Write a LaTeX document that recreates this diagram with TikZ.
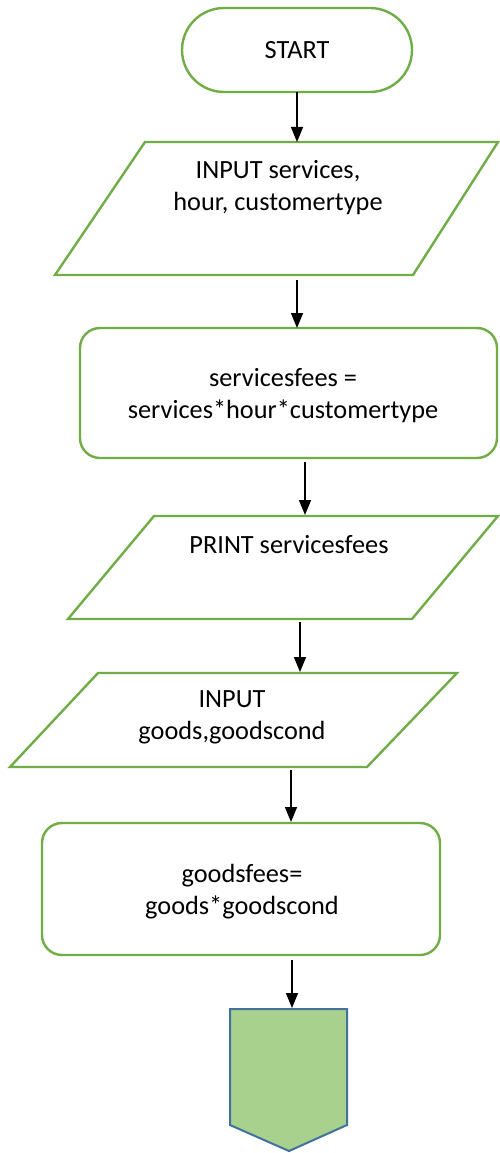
\documentclass[tikz,border=0pt]{standalone}
\usepackage{fontspec}
\setmainfont{Carlito}
\usetikzlibrary{arrows.meta}
\definecolor{flowgreen}{HTML}{70AD47}
\definecolor{connfill}{HTML}{A9D18E}
\definecolor{connedge}{HTML}{41719C}
\tikzset{
  outline/.style={draw=flowgreen, line width=2.4pt, fill=white, line join=miter},
  label/.style={align=center, font=\fontsize{26.3}{32}\selectfont, inner sep=0pt},
  flow/.style={line width=1.5pt, -{Triangle[length=15pt,width=12pt]}},
}
\begin{document}
\begin{tikzpicture}[x=1pt,y=-1pt]
\useasboundingbox (0,0) rectangle (499,1153);

% terminal
\draw[outline, rounded corners=42pt] (182,8) rectangle (412,92);
\node[label] (start) at (297,50) {START};

% input of services, hour, customer type
\draw[outline] (145,142) -- (498,142) -- (413,275) -- (55,275) -- cycle;
\node[label] (in1) at (278,188) {INPUT services,\\hour, customertype};

% services fee computation
\draw[outline, rounded corners=20pt] (80,328) rectangle (497,458);
\node[label] (proc1) at (283,396) {servicesfees =\\services*hour*customertype};

% print
\draw[outline] (154,516) -- (498,516) -- (412,619) -- (68,619) -- cycle;
\node[label] (out1) at (289,545) {PRINT servicesfees};

% input of goods
\draw[outline] (98,673) -- (457,673) -- (367,767) -- (10,767) -- cycle;
\node[label] (in2) at (232,717) {INPUT\\goods,goodscond};

% goods fee computation
\draw[outline, rounded corners=20pt] (42,823) rectangle (440,955);
\node[label] (proc2) at (242,892) {goodsfees=\\goods*goodscond};

% off-page connector
\draw[fill=connfill, draw=connedge, line width=2pt, line join=miter]
  (230,1009) -- (347,1009) -- (347,1125) -- (289,1151) -- (230,1125) -- cycle;

% connector end points
\coordinate (s1) at (297,92);   \coordinate (e1) at (297,142);
\coordinate (s2) at (297,280);  \coordinate (e2) at (297,328);
\coordinate (s3) at (305,462);  \coordinate (e3) at (305,515);
\coordinate (s4) at (300,622);  \coordinate (e4) at (300,672);
\coordinate (s5) at (291,770);  \coordinate (e5) at (291,822);
\coordinate (s6) at (292,960);  \coordinate (e6) at (292,1008);

\foreach \i in {1,...,6} \draw[flow] (s\i) -- (e\i);
\end{tikzpicture}
\end{document}
